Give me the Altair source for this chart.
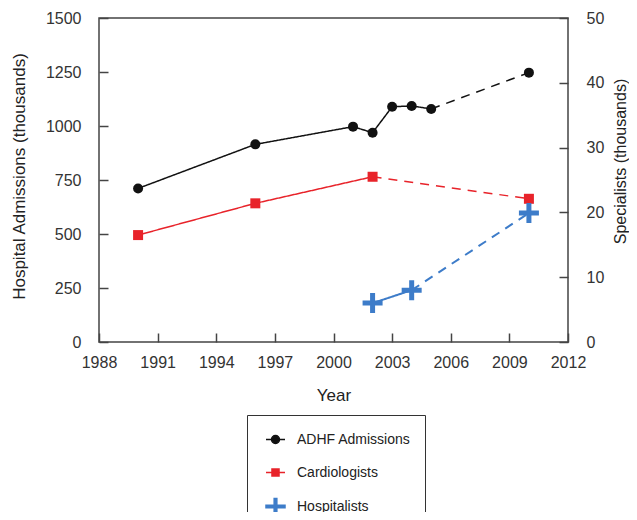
import altair as alt
import pandas as pd

# ---------------- data ----------------
series_names = ["ADHF Admissions", "Cardiologists", "Hospitalists"]
adhf_years = [1990, 1996, 2001, 2002, 2003, 2004, 2005, 2010]
adhf_values = [711, 915, 997, 969, 1089, 1093, 1079, 1247]          # thousands (left axis)
cardio_years = [1990, 1996, 2002, 2010]
cardio_values = [16.5, 21.4, 25.5, 22.1]                             # thousands (right axis)
hosp_years = [2002, 2004, 2010]
hosp_values = [6.0, 8.0, 19.9]                                       # thousands (right axis)
dash_from = [2005, 2002, 2004]   # year where each series turns into a dashed projection

x_ticks = [1988, 1991, 1994, 1997, 2000, 2003, 2006, 2009, 2012]
left_ticks = [0, 250, 500, 750, 1000, 1250, 1500]
right_ticks = [0, 10, 20, 30, 40, 50]

colors = ["#111111", "#e8232a", "#3d7cc9"]

# ---------------- tables ----------------
all_years = [adhf_years, cardio_years, hosp_years]
all_values = [adhf_values, cardio_values, hosp_values]
pt_rows, seg_rows = [], []
for name, ys, vs, d in zip(series_names, all_years, all_values, dash_from):
    for y, v in zip(ys, vs):
        pt_rows.append({"series": name, "year": y, "value": v})
        if y <= d:
            seg_rows.append({"series": name, "year": y, "value": v, "seg": "solid"})
        if y >= d:
            seg_rows.append({"series": name, "year": y, "value": v, "seg": "dashed"})
pts = pd.DataFrame(pt_rows)
segs = pd.DataFrame(seg_rows)

FONT = "Liberation Sans"
PLUS = "M-1,-0.25H-0.25V-1H0.25V-0.25H1V0.25H0.25V1H-0.25V0.25H-1Z"
legend_paths = [
    "M-1,0H1M-0.42,0A0.42,0.42 0 1,0 0.42,0A0.42,0.42 0 1,0 -0.42,0Z",
    "M-1,0H1M-0.37,-0.37H0.37V0.37H-0.37Z",
    "M-1,-0.14H-0.14V-0.85H0.14V-0.14H1V0.14H0.14V0.85H-0.14V0.14H-1Z",
]

x_enc = alt.X(
    "year:Q",
    scale=alt.Scale(domain=[1988, 2012], nice=False, zero=False),
    axis=alt.Axis(values=x_ticks, format="d", title="Year", offset=-9, tickSize=9,
                  domain=False, grid=False, labelPadding=12, labelFlush=False,
                  labelOverlap=False, titleY=62, titleBaseline="middle"),
)
y_left = alt.Y(
    "value:Q",
    scale=alt.Scale(domain=[0, 1500], nice=False),
    axis=alt.Axis(values=left_ticks, format="d", title="Hospital Admissions (thousands)",
                  offset=-9, tickSize=9, domain=False, grid=False, labelPadding=18,
                  labelFlush=False, labelOverlap=False, titleX=-89, titleY=158,
                  titleAngle=270, titleBaseline="middle"),
)
y_right = alt.Y(
    "value:Q",
    scale=alt.Scale(domain=[0, 50], nice=False),
    axis=alt.Axis(orient="right", values=right_ticks, format="d",
                  title="Specialists (thousands)", offset=-9, tickSize=9, domain=False,
                  grid=False, labelPadding=18, labelFlush=False, labelOverlap=False,
                  titleX=61, titleY=143, titleAngle=270, titleBaseline="middle",
                  titleFontSize=16),
)
dash_enc = alt.StrokeDash("seg:N", scale=alt.Scale(domain=["solid", "dashed"],
                                                   range=[[1, 0], [9, 7]]), legend=None)

def line(name, color, width, y):
    return alt.Chart(segs).transform_filter(alt.datum.series == name).mark_line(
        color=color, strokeWidth=width).encode(x=x_enc, y=y, strokeDash=dash_enc)

def points(name, color, shape, size, y):
    return alt.Chart(pts).transform_filter(alt.datum.series == name).mark_point(
        filled=True, color=color, shape=shape, size=size, opacity=1).encode(x=x_enc, y=y)

leg = alt.Legend(title=None, orient="none", legendX=148, legendY=397,
                 labelFont=FONT, labelFontSize=14, labelColor="#222",
                 symbolSize=361, symbolStrokeWidth=1.5, symbolOpacity=1,
                 padding=14, symbolOffset=4, labelOffset=11, rowPadding=15,
                 strokeColor="#333", fillColor="white")

legend_layer = alt.Chart(pts).mark_point(filled=True, opacity=0).encode(
    x=x_enc, y=y_left,
    fill=alt.Fill("series:N", scale=alt.Scale(domain=series_names, range=colors), legend=leg),
    stroke=alt.Stroke("series:N", scale=alt.Scale(domain=series_names, range=colors), legend=leg),
    shape=alt.Shape("series:N", scale=alt.Scale(domain=series_names, range=legend_paths), legend=leg),
)

left = alt.layer(
    line("ADHF Admissions", colors[0], 1.5, y_left),
    points("ADHF Admissions", colors[0], "circle", 100, y_left),
    legend_layer,
)
right = alt.layer(
    line("Cardiologists", colors[1], 1.5, y_right),
    line("Hospitalists", colors[2], 2, y_right),
    points("Cardiologists", colors[1], "square", 100, y_right),
    points("Hospitalists", colors[2], PLUS, 400, y_right),
)

chart = alt.layer(left, right).resolve_scale(y="independent").properties(
    width=469, height=324,
    autosize=alt.AutoSizeParams(type="none"),
    padding={"left": 91, "top": 10, "right": 61, "bottom": 170},
    background="white",
).configure_view(stroke="#444", strokeWidth=1.5).configure_axis(
    labelFont=FONT, labelFontSize=16, labelColor="#333",
    titleFont=FONT, titleFontSize=17, titleFontWeight="normal", titleColor="#222",
    tickColor="#444", tickWidth=1.5,
)

chart.save("out.html", embed_options={"renderer": "svg", "actions": False})
